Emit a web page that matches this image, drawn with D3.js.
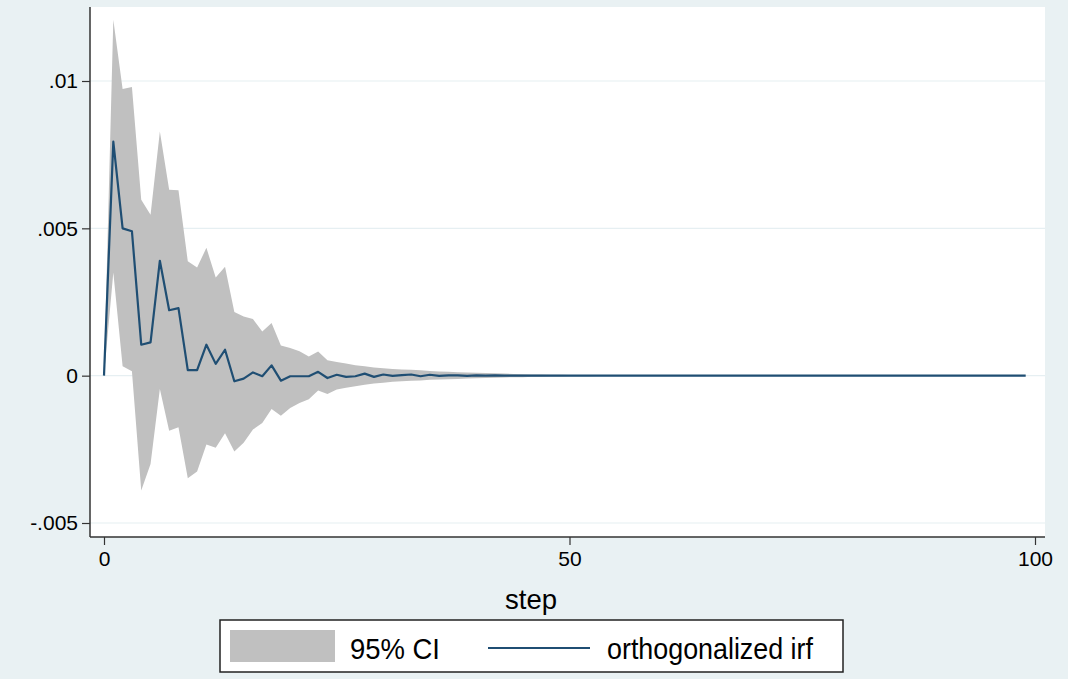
<!DOCTYPE html>
<html>
<head>
<meta charset="utf-8">
<script src="https://cdn.jsdelivr.net/npm/d3@7"></script>
<style>
  html, body { margin: 0; padding: 0; background: #e9f1f3; }
  svg { display: block; }
  text { font-family: "Liberation Sans", Arial, Helvetica, sans-serif; fill: #000; }
</style>
</head>
<body>
<svg id="chart" width="1068" height="679"></svg>
<script>
// ---- data ----
const steps = d3.range(0, 100);
const irf = [
  0, 0.00794, 0.00500, 0.00490, 0.00105, 0.00113, 0.00390, 0.00222, 0.00229, 0.00019,
  0.00019, 0.00105, 0.00040, 0.00088, -0.00019, -0.00010, 0.00011, -0.00002, 0.00035, -0.00017,
  -0.00002, -0.00002, -0.00002, 0.00013, -0.00008, 0.00003, -0.00004, -0.00002, 0.00007, -0.00004,
  0.00004, -0.00001, 0.00002, 0.00004, -0.00002, 0.00003, -0.00001, 0.00001, 0.00001, -0.00001,
  0.00001, 0, 0.00001, 0, 0, 0, 0, 0, 0, 0,
  0, 0, 0, 0, 0, 0, 0, 0, 0, 0,
  0, 0, 0, 0, 0, 0, 0, 0, 0, 0,
  0, 0, 0, 0, 0, 0, 0, 0, 0, 0,
  0, 0, 0, 0, 0, 0, 0, 0, 0, 0,
  0, 0, 0, 0, 0, 0, 0, 0, 0, 0
];
const ciUpper = [
  0, 0.01208, 0.00973, 0.00980, 0.00597, 0.00546, 0.00829, 0.00631, 0.00629, 0.00388,
  0.00367, 0.00434, 0.00333, 0.00370, 0.00216, 0.00201, 0.00192, 0.00150, 0.00179, 0.00102,
  0.00094, 0.00083, 0.00065, 0.00082, 0.00052, 0.00046, 0.00041, 0.00035, 0.00032, 0.00028,
  0.00025, 0.00023, 0.00021, 0.00020, 0.00018, 0.00016, 0.00014, 0.00013, 0.00012, 0.00011,
  0.00010, 0.00009, 0.00008, 0.00007, 0.00006, 0.00005, 0.00004, 0.00004, 0.00003, 0.00003,
  0.00002, 0.00002, 0.00002, 0.00001, 0.00001, 0.00001, 0.00001, 0.00001, 0, 0,
  0, 0, 0, 0, 0, 0, 0, 0, 0, 0,
  0, 0, 0, 0, 0, 0, 0, 0, 0, 0,
  0, 0, 0, 0, 0, 0, 0, 0, 0, 0,
  0, 0, 0, 0, 0, 0, 0, 0, 0, 0
];
const ciLower = [
  0, 0.00350, 0.00032, 0.00015, -0.00390, -0.00300, -0.00045, -0.00187, -0.00175, -0.00348,
  -0.00325, -0.00234, -0.00245, -0.00195, -0.00257, -0.00228, -0.00183, -0.00161, -0.00113, -0.00136,
  -0.00110, -0.00093, -0.00080, -0.00050, -0.00062, -0.00047, -0.00041, -0.00036, -0.00031, -0.00027,
  -0.00024, -0.00021, -0.00019, -0.00017, -0.00016, -0.00014, -0.00013, -0.00012, -0.00011, -0.00010,
  -0.00009, -0.00008, -0.00007, -0.00006, -0.00005, -0.00005, -0.00004, -0.00004, -0.00003, -0.00003,
  -0.00002, -0.00002, -0.00002, -0.00001, -0.00001, -0.00001, -0.00001, -0.00001, 0, 0,
  0, 0, 0, 0, 0, 0, 0, 0, 0, 0,
  0, 0, 0, 0, 0, 0, 0, 0, 0, 0,
  0, 0, 0, 0, 0, 0, 0, 0, 0, 0,
  0, 0, 0, 0, 0, 0, 0, 0, 0, 0
];
const yTicks = [-0.005, 0, 0.005, 0.01];
const yTickLabels = ["-.005", "0", ".005", ".01"];
const xTicks = [0, 50, 100];
const xTitle = "step";
const legendLabels = ["95% CI", "orthogonalized irf"];

// ---- layout ----
const svg = d3.select("#chart");
const plot = { left: 90, right: 1045, top: 7, bottom: 537 };
const x = d3.scaleLinear().domain([0, 100]).range([104, 1035]);
const y = d3.scaleLinear().domain([-0.005, 0.01]).range([523, 81]);

svg.append("rect").attr("x", 0).attr("y", 0).attr("width", 1068).attr("height", 679).attr("fill", "#e9f1f3");
svg.append("rect").attr("x", plot.left).attr("y", plot.top)
  .attr("width", plot.right - plot.left).attr("height", plot.bottom - plot.top).attr("fill", "#ffffff");

// gridlines
svg.append("g").selectAll("line").data(yTicks).join("line")
  .attr("x1", plot.left).attr("x2", plot.right)
  .attr("y1", d => y(d)).attr("y2", d => y(d))
  .attr("stroke", "#e6eff2").attr("stroke-width", 1.2);

const data = steps.map((s, i) => ({ s, v: irf[i], lo: ciLower[i], hi: ciUpper[i] }));

// CI band
svg.append("path").datum(data)
  .attr("d", d3.area().x(d => x(d.s)).y0(d => y(d.lo)).y1(d => y(d.hi)))
  .attr("fill", "#c0c0c0");

// irf line
svg.append("path").datum(data)
  .attr("d", d3.line().x(d => x(d.s)).y(d => y(d.v)))
  .attr("fill", "none").attr("stroke", "#1f4e73").attr("stroke-width", 2.2)
  .attr("stroke-linejoin", "round");

// y axis
const yAxis = d3.axisLeft(y).tickValues(yTicks)
  .tickFormat((d, i) => yTickLabels[i]).tickSizeInner(8).tickSizeOuter(0).tickPadding(4);
const gy = svg.append("g").attr("transform", `translate(${plot.left},0)`).call(yAxis);
gy.select(".domain").attr("d", `M0,${plot.top}V${plot.bottom}`).attr("stroke", "#333").attr("stroke-width", 1.5);
gy.selectAll(".tick line").attr("stroke", "#333").attr("stroke-width", 1.2);
gy.selectAll(".tick text").attr("font-size", 21).attr("fill", "#000")
  .attr("font-family", "Liberation Sans, Arial, sans-serif");

// x axis
const xAxis = d3.axisBottom(x).tickValues(xTicks).tickSizeInner(8).tickSizeOuter(0).tickPadding(6);
const gx = svg.append("g").attr("transform", `translate(0,${plot.bottom})`).call(xAxis);
gx.select(".domain").attr("d", `M${plot.left},0H${plot.right}`).attr("stroke", "#333").attr("stroke-width", 1.5);
gx.selectAll(".tick line").attr("stroke", "#333").attr("stroke-width", 1.2);
gx.selectAll(".tick text").attr("font-size", 21).attr("fill", "#000")
  .attr("font-family", "Liberation Sans, Arial, sans-serif");

// x title
svg.append("text").attr("x", 531).attr("y", 609).attr("text-anchor", "middle")
  .attr("font-size", 28).attr("textLength", 52).attr("lengthAdjust", "spacingAndGlyphs").text(xTitle);

// legend
const lg = svg.append("g");
lg.append("rect").attr("x", 220).attr("y", 620).attr("width", 623).attr("height", 52)
  .attr("fill", "#ffffff").attr("stroke", "#222").attr("stroke-width", 1.5);
lg.append("rect").attr("x", 230).attr("y", 630).attr("width", 105).attr("height", 32).attr("fill", "#c0c0c0");
lg.append("text").attr("x", 350).attr("y", 659).attr("font-size", 30)
  .attr("textLength", 90).attr("lengthAdjust", "spacingAndGlyphs").text(legendLabels[0]);
lg.append("line").attr("x1", 488).attr("x2", 590).attr("y1", 648).attr("y2", 648)
  .attr("stroke", "#1f4e73").attr("stroke-width", 2.2);
lg.append("text").attr("x", 607).attr("y", 659).attr("font-size", 30)
  .attr("textLength", 206).attr("lengthAdjust", "spacingAndGlyphs").text(legendLabels[1]);
</script>
</body>
</html>
